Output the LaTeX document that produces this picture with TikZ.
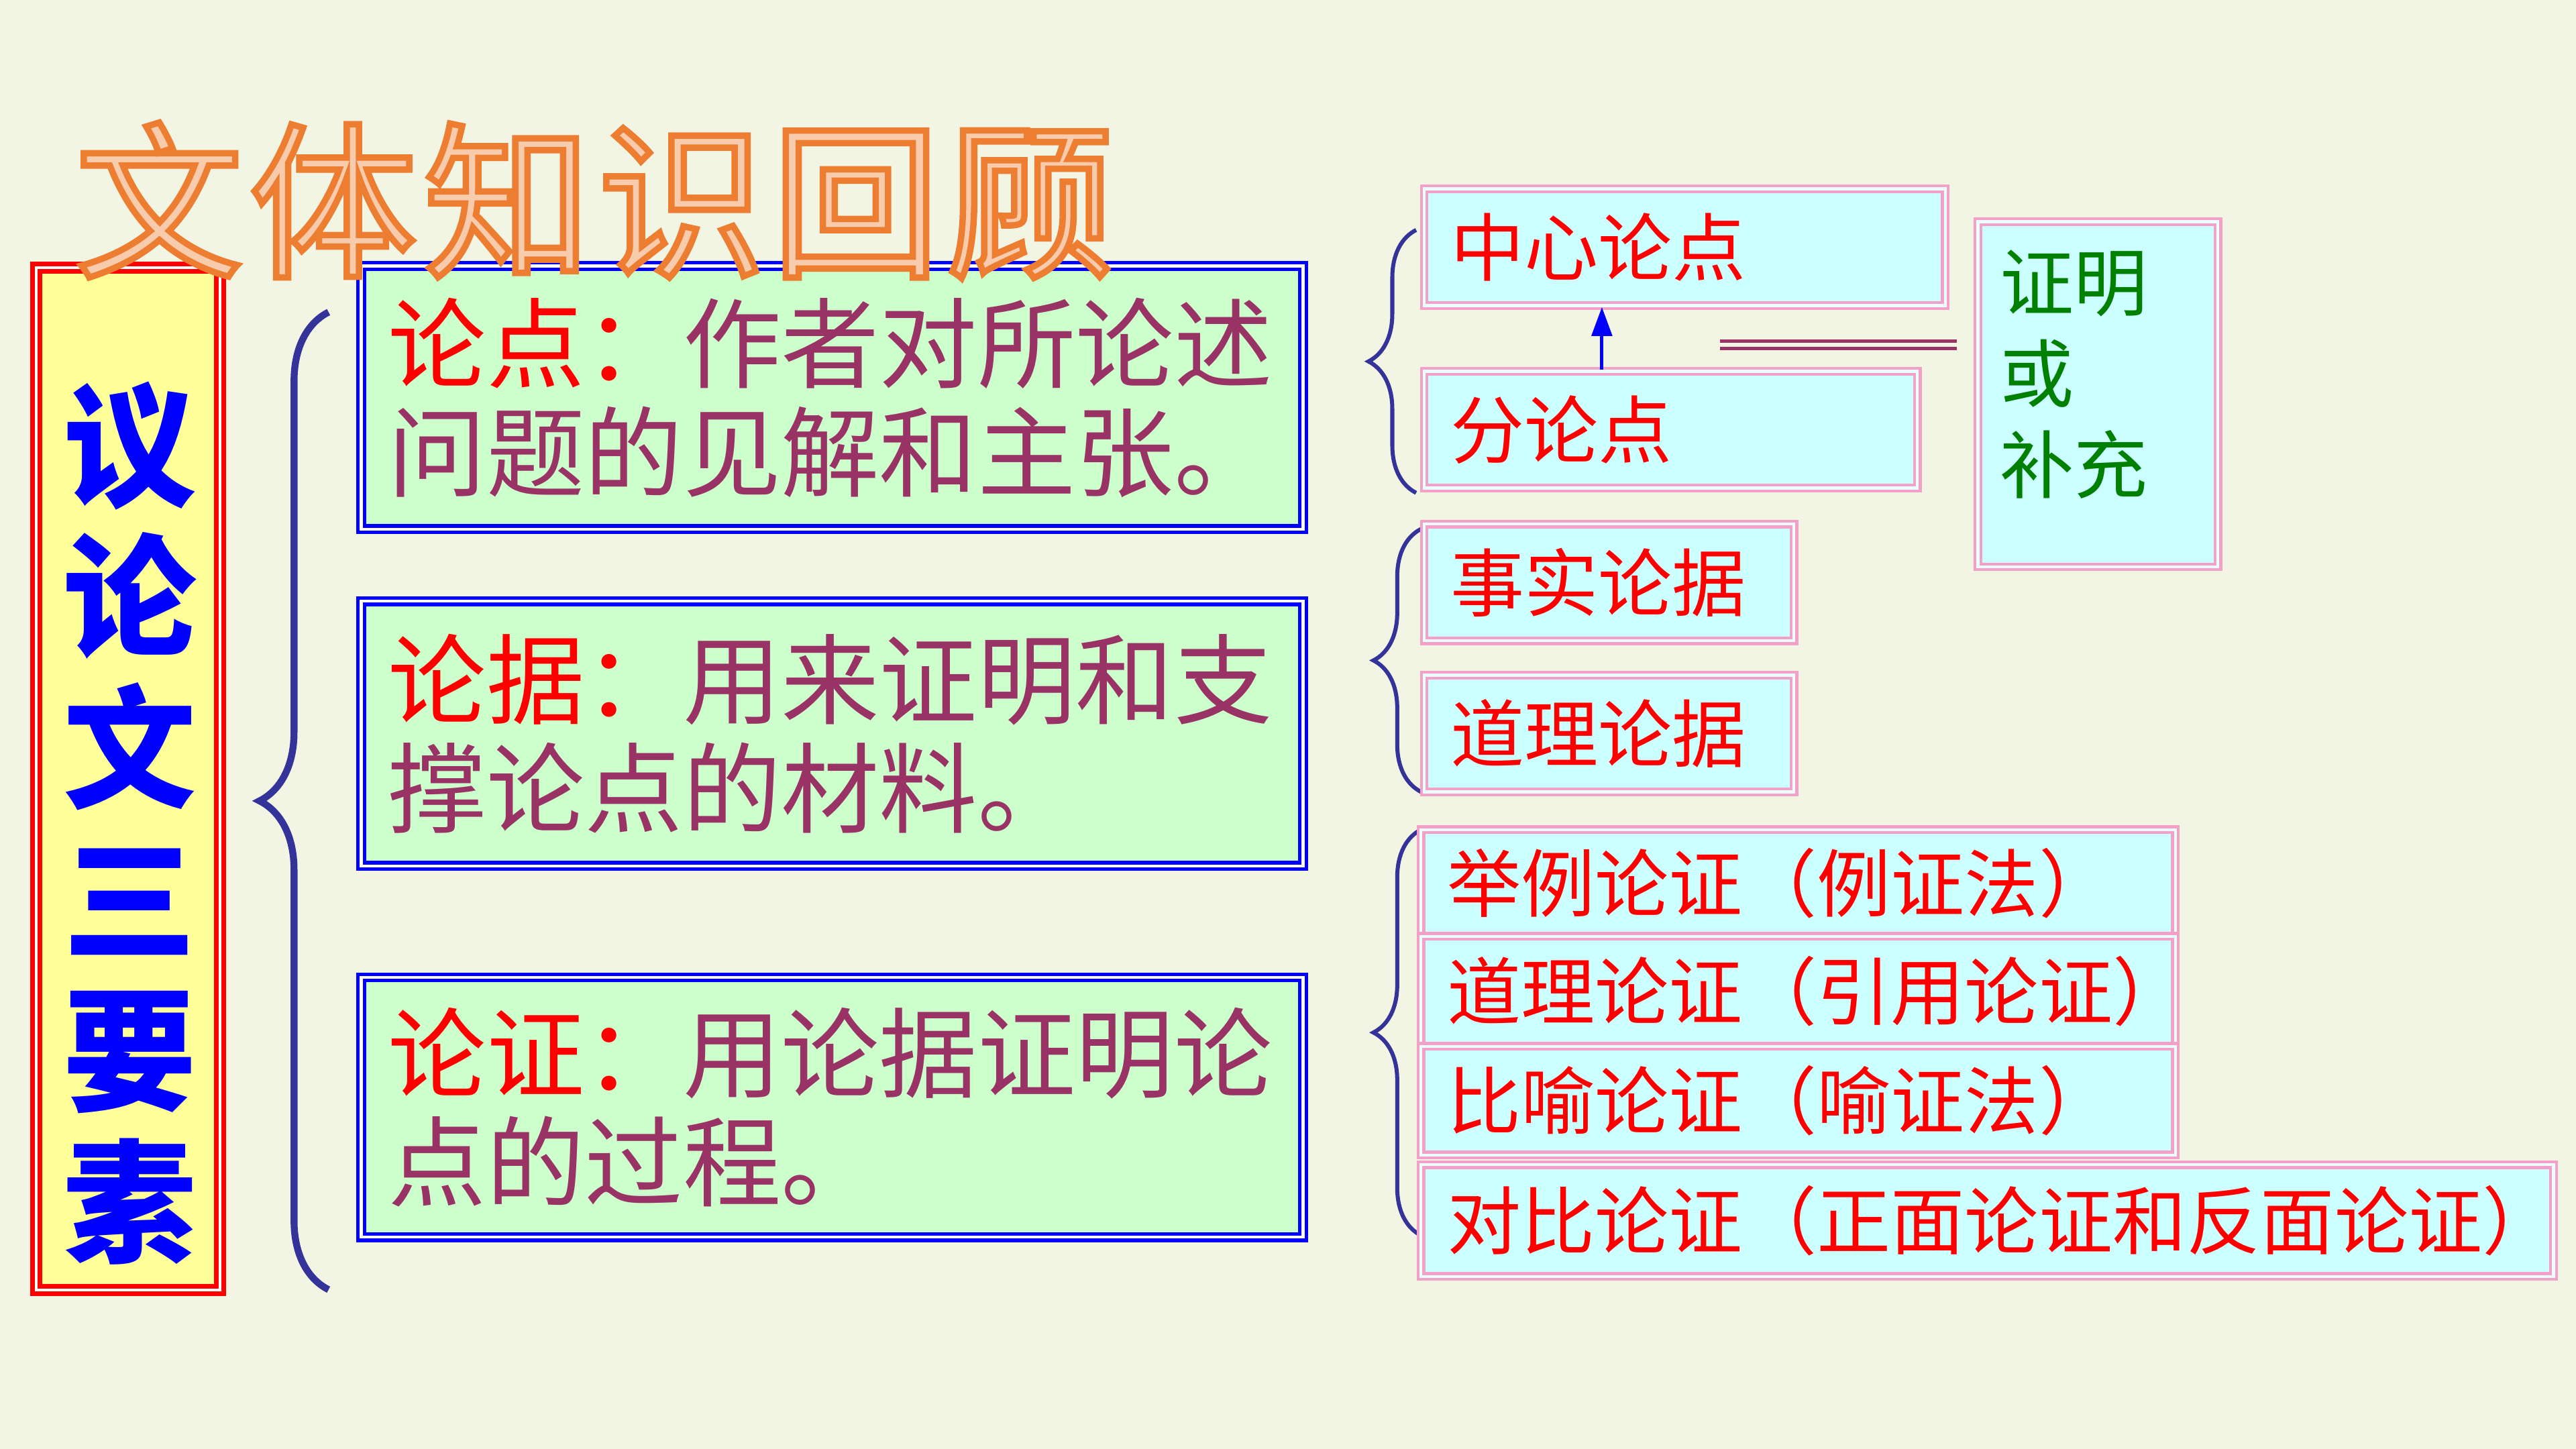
\documentclass[tikz,border=0pt]{standalone}
\usepackage{fontspec}
\setmainfont{Noto Sans CJK SC}
\usetikzlibrary{decorations.pathreplacing,arrows.meta}

\definecolor{bgcream}{RGB}{243,245,228}
\definecolor{boxyellow}{RGB}{255,255,153}
\definecolor{boxgreen}{RGB}{204,255,204}
\definecolor{boxcyan}{RGB}{204,255,255}
\definecolor{boxpink}{RGB}{245,160,200}
\definecolor{bracecol}{RGB}{51,51,153}
\definecolor{textpurple}{RGB}{153,51,102}
\definecolor{textgreen}{RGB}{0,128,0}
\definecolor{titlefill}{RGB}{248,203,173}

% outlined title letters
\newcommand\outlined[1]{\special{pdf:literal 0.929 0.490 0.192 RG 2 Tr 1.1 w}#1\special{pdf:literal 0 Tr}}

\tikzset{
  greenbox/.style={draw=blue, line width=0.6pt, double=white, double distance=0.5pt,
    fill=boxgreen, minimum width=5.73cm, text width=5.40cm, align=left, inner sep=0pt,
    text=textpurple, font=\fontsize{17pt}{18.8pt}\selectfont},
  cyanbox/.style={draw=boxpink, line width=0.5pt, double=boxcyan!40!white, double distance=0.5pt,
    fill=boxcyan, anchor=west, align=left, inner xsep=0.16cm, inner ysep=0pt,
    text=red, font=\fontsize{12.8pt}{15pt}\selectfont},
  bigbrace/.style={draw=bracecol, line width=1.2pt, decorate,
    decoration={brace, amplitude=0.42cm}},
  smallbrace/.style={draw=bracecol, line width=0.7pt, decorate,
    decoration={brace, amplitude=0.29cm}}
}

\begin{document}
\begin{tikzpicture}[x=0.01cm,y=-0.01cm]
  \fill[bgcream] (0,0) rectangle (1568,882);
  \useasboundingbox (0,0) rectangle (1568,882);

  % left column
  \node[draw=red, line width=0.8pt, double=white, double distance=0.5pt, fill=boxyellow,
    minimum width=1.12cm, minimum height=6.22cm] (yaosu) at (78,474) {};
  \node[text=blue, align=center, font=\fontsize{23pt}{26.2pt}\selectfont\bfseries]
    (yaosutext) at (79,501) {议\\论\\文\\三\\要\\素};

  \draw[bigbrace] (200,785) -- (200,190);

  % three elements
  \node[greenbox, minimum height=1.60cm] (lundian) at (506.5,242)
    {\textcolor{red}{论点：}作者对所论述\\问题的见解和主张。};
  \node[greenbox, minimum height=1.61cm] (lunju) at (506.5,446.5)
    {\textcolor{red}{论据：}用来证明和支\\撑论点的材料。};
  \node[greenbox, minimum height=1.58cm] (lunzheng) at (506.5,674)
    {\textcolor{red}{论证：}用论据证明论\\点的过程。};

  % right braces
  \draw[smallbrace] (862,300) -- (862,140);
  \draw[smallbrace] (865,482) -- (865,322);
  \draw[smallbrace] (865,752) -- (865,505);

  % points
  \node[cyanbox, text width=2.85cm, minimum height=0.71cm] (zxld) at (866,150.5) {中心论点};
  \node[cyanbox, text width=2.68cm, minimum height=0.71cm] (fld) at (866,261.5) {分论点};
  \draw[blue, line width=0.6pt, -{Triangle[length=5pt,width=3.5pt]}]
    ([xshift=1.09cm]fld.north west) -- ([xshift=1.09cm]zxld.south west);

  \node[draw=boxpink, line width=0.5pt, double=boxcyan!40!white, double distance=0.5pt,
    fill=boxcyan, minimum width=1.46cm, minimum height=2.10cm] (zmbc) at (1277,240) {};
  \node[anchor=west, align=left, text=textgreen, font=\fontsize{12.8pt}{15.8pt}\selectfont]
    (zmbctext) at (1205,228) {证明\\或\\补充};
  \coordinate (dl) at (1047,210);
  \draw[textpurple, line width=0.6pt, double=bgcream, double distance=0.7pt, shorten >=0.12cm]
    (dl) -- (dl -| zmbc.west);

  % grounds
  \node[cyanbox, text width=1.93cm, minimum height=0.71cm] (sslj) at (866,354.5) {事实论据};
  \node[cyanbox, text width=1.93cm, minimum height=0.71cm] (dllj) at (866,446.5) {道理论据};

  % methods
  \node[cyanbox, text width=4.27cm, minimum height=0.65cm] (jlz) at (864,537.5) {举例论证（例证法）};
  \node[cyanbox, text width=4.27cm, minimum height=0.67cm] (dlz) at (864,603.5) {道理论证（引用论证）};
  \node[cyanbox, text width=4.27cm, minimum height=0.66cm] (byz) at (864,670) {比喻论证（喻证法）};
  \node[cyanbox, text width=6.57cm, minimum height=0.68cm] (dbz) at (864,743) {对比论证（正面论证和反面论证）};

  % title on top
  \node[text=titlefill, font=\fontsize{29pt}{32pt}\selectfont\addfontfeature{LetterSpace=4}]
    (title) at (362,122) {\outlined{文体知识回顾}};
\end{tikzpicture}
\end{document}
